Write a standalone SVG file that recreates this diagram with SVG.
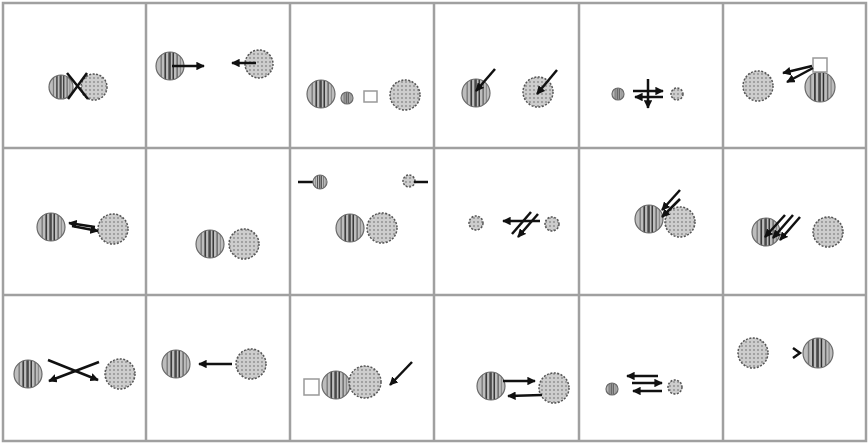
<svg xmlns="http://www.w3.org/2000/svg" width="868" height="443" viewBox="0 0 868 443">
<defs>
<pattern id="stripes" patternContentUnits="objectBoundingBox" width="1" height="1">
<rect x="0" y="0" width="1" height="1" fill="#bdbdbd"/>
<rect x="0.16" y="0" width="0.05" height="1" fill="#7a7a7a"/>
<rect x="0.3" y="0" width="0.06" height="1" fill="#3c3c3c"/>
<rect x="0.44" y="0" width="0.09" height="1" fill="#4a4a4a"/>
<rect x="0.59" y="0" width="0.05" height="1" fill="#2e2e2e"/>
<rect x="0.73" y="0" width="0.05" height="1" fill="#666"/>
<rect x="0.85" y="0" width="0.04" height="1" fill="#8a8a8a"/>
</pattern>
<pattern id="dots" patternUnits="userSpaceOnUse" width="4" height="4">
<rect width="4" height="4" fill="#cdcdcd"/>
<circle cx="2" cy="2" r="0.9" fill="#8c8c8c"/>
</pattern>
<marker id="ah" viewBox="0 0 10 10" refX="9" refY="5" markerWidth="3.4" markerHeight="3.4" orient="auto" markerUnits="strokeWidth">
<path d="M0,0 L10,5 L0,10 z" fill="#111"/>
</marker>
<style>
.grid{stroke:#a0a0a0;stroke-width:2.5;fill:none}
.st{fill:url(#stripes);stroke:#6a6a6a;stroke-width:1.2}
.dt{fill:url(#dots);stroke:#555;stroke-width:1.5;stroke-dasharray:2 1.5}
.ar{stroke:#111;stroke-width:2.5;fill:none;marker-end:url(#ah)}
.ln{stroke:#111;stroke-width:2.5;fill:none}
.sq{fill:#fff;stroke:#999;stroke-width:1.5}
</style>
</defs>
<rect width="868" height="443" fill="#fff"/>
<g id="grid" class="grid">
<rect x="3" y="3" width="863" height="438"/>
<line x1="146" y1="3" x2="146" y2="441"/>
<line x1="290" y1="3" x2="290" y2="441"/>
<line x1="434" y1="3" x2="434" y2="441"/>
<line x1="579" y1="3" x2="579" y2="441"/>
<line x1="723" y1="3" x2="723" y2="441"/>
<line x1="3" y1="148" x2="866" y2="148"/>
<line x1="3" y1="295" x2="866" y2="295"/>
</g>
<g id="cell1">
<circle class="st" cx="61" cy="87" r="12"/>
<circle class="dt" cx="94" cy="87" r="13"/>
<line class="ln" x1="67" y1="73" x2="88" y2="99" stroke-width="3.5"/>
<line class="ln" x1="87" y1="73" x2="68" y2="99" stroke-width="3.5"/>
</g>
<g id="cell2">
<circle class="st" cx="170" cy="66" r="14"/>
<circle class="dt" cx="259" cy="64" r="14"/>
<line class="ar" x1="172" y1="66" x2="204" y2="66"/>
<line class="ar" x1="256" y1="63" x2="232" y2="63"/>
</g>
<g id="cell3">
<circle class="st" cx="321" cy="94" r="14"/>
<circle class="st" cx="347" cy="98" r="6"/>
<rect class="sq" x="364" y="91" width="13" height="11"/>
<circle class="dt" cx="405" cy="95" r="15"/>
</g>
<g id="cell4">
<circle class="st" cx="476" cy="93" r="14"/>
<circle class="dt" cx="538" cy="92" r="15"/>
<line class="ar" x1="495" y1="69" x2="476" y2="91"/>
<line class="ar" x1="557" y1="70" x2="537" y2="94"/>
</g>
<g id="cell5">
<circle class="st" cx="618" cy="94" r="6"/>
<circle class="dt" cx="677" cy="94" r="6"/>
<line class="ar" x1="648" y1="79" x2="648" y2="108"/>
<line class="ar" x1="633" y1="91" x2="663" y2="91"/>
<line class="ar" x1="663" y1="97" x2="635" y2="97"/>
</g>
<g id="cell6">
<circle class="dt" cx="758" cy="86" r="15"/>
<circle class="st" cx="820" cy="87" r="15"/>
<rect class="sq" x="813" y="58" width="14" height="14"/>
<line class="ar" x1="812" y1="66" x2="783" y2="73" stroke-width="2"/>
<line class="ar" x1="813" y1="68" x2="787" y2="82" stroke-width="2"/>
</g>
<g id="cell7">
<circle class="st" cx="51" cy="227" r="14"/>
<circle class="dt" cx="113" cy="229" r="15"/>
<line class="ar" x1="95" y1="227" x2="69" y2="223"/>
<line class="ar" x1="72" y1="226" x2="98" y2="231"/>
</g>
<g id="cell8">
<circle class="st" cx="210" cy="244" r="14"/>
<circle class="dt" cx="244" cy="244" r="15"/>
</g>
<g id="cell9">
<line class="ln" x1="298" y1="182" x2="313" y2="182" stroke-width="3"/>
<circle class="st" cx="320" cy="182" r="7"/>
<circle class="dt" cx="409" cy="181" r="6"/>
<line class="ln" x1="414" y1="182" x2="428" y2="182" stroke-width="2"/>
<circle class="st" cx="350" cy="228" r="14"/>
<circle class="dt" cx="382" cy="228" r="15"/>
</g>
<g id="cell10">
<circle class="dt" cx="476" cy="223" r="7"/>
<circle class="dt" cx="552" cy="224" r="7"/>
<line class="ar" x1="540" y1="221" x2="503" y2="221"/>
<line class="ln" x1="512" y1="234" x2="531" y2="212"/>
<line class="ar" x1="538" y1="214" x2="518" y2="237"/>
</g>
<g id="cell11">
<circle class="dt" cx="680" cy="222" r="15"/>
<circle class="st" cx="649" cy="219" r="14"/>
<line class="ar" x1="680" y1="190" x2="662" y2="210"/>
<line class="ar" x1="680" y1="199" x2="662" y2="217"/>
</g>
<g id="cell12">
<circle class="st" cx="766" cy="232" r="14"/>
<circle class="dt" cx="828" cy="232" r="15"/>
<line class="ar" x1="785" y1="215" x2="765" y2="237"/>
<line class="ar" x1="793" y1="215" x2="773" y2="238"/>
<line class="ar" x1="800" y1="217" x2="780" y2="240"/>
</g>
<g id="cell13">
<circle class="st" cx="28" cy="374" r="14"/>
<circle class="dt" cx="120" cy="374" r="15"/>
<line class="ar" x1="48" y1="360" x2="98" y2="380"/>
<line class="ar" x1="99" y1="362" x2="49" y2="381"/>
</g>
<g id="cell14">
<circle class="st" cx="176" cy="364" r="14"/>
<circle class="dt" cx="251" cy="364" r="15"/>
<line class="ar" x1="232" y1="364" x2="199" y2="364"/>
</g>
<g id="cell15">
<rect class="sq" x="304" y="379" width="15" height="16"/>
<circle class="st" cx="336" cy="385" r="14"/>
<circle class="dt" cx="365" cy="382" r="16"/>
<line class="ar" x1="412" y1="362" x2="390" y2="385"/>
</g>
<g id="cell16">
<circle class="st" cx="491" cy="386" r="14"/>
<circle class="dt" cx="554" cy="388" r="15"/>
<line class="ar" x1="503" y1="381" x2="535" y2="381"/>
<line class="ar" x1="542" y1="395" x2="508" y2="396"/>
</g>
<g id="cell17">
<circle class="st" cx="612" cy="389" r="6"/>
<circle class="dt" cx="675" cy="387" r="7"/>
<line class="ar" x1="658" y1="376" x2="627" y2="376"/>
<line class="ar" x1="632" y1="383" x2="662" y2="383"/>
<line class="ar" x1="662" y1="391" x2="633" y2="391"/>
</g>
<g id="cell18">
<circle class="dt" cx="753" cy="353" r="15"/>
<polyline class="ln" points="793,348 800,353 793,358"/>
<circle class="st" cx="818" cy="353" r="15"/>
</g>
</svg>
